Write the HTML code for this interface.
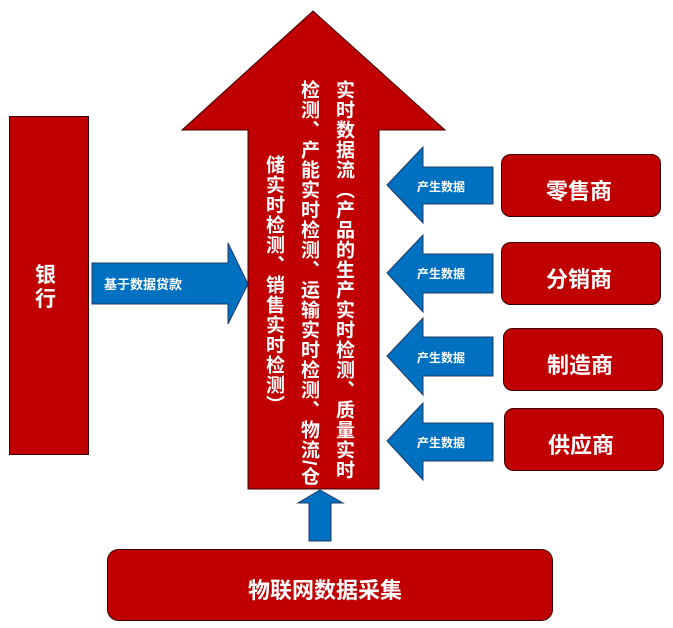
<!DOCTYPE html>
<html><head><meta charset="utf-8"><style>
body{margin:0;background:#fff;width:673px;height:628px;overflow:hidden;position:relative;font-family:"Liberation Sans","Noto Sans CJK SC",sans-serif}
svg{position:absolute;left:0;top:0}
.t{position:absolute;color:#fff;font-weight:bold;white-space:nowrap}
.v{writing-mode:vertical-rl;font-size:19px;line-height:20px;letter-spacing:1px}
</style></head><body>
<svg width="673" height="628">
<g stroke="#3a0000" stroke-width="1">
<rect x="9.5" y="116.5" width="79" height="338" fill="#c00000"/>
<polygon points="313,11 445,130 379,130 379,489 248,489 248,130 182,130" fill="#c00000"/>
<rect x="501.5" y="154.5" width="159" height="62" rx="9" fill="#c00000"/>
<rect x="501.5" y="242.5" width="159" height="62" rx="9" fill="#c00000"/>
<rect x="503.5" y="328.5" width="159" height="62" rx="9" fill="#c00000"/>
<rect x="504.5" y="408.5" width="159" height="62" rx="9" fill="#c00000"/>
<rect x="107.5" y="549.5" width="445" height="71" rx="11" fill="#c00000"/>
</g>
<g fill="#0070c0" stroke="#1f3864" stroke-width="1">
<polygon points="387,185 423,147 423,167 493,167 493,204 423,204 423,223"/>
<polygon points="387,273 423,235 423,254 493,254 493,293 423,293 423,312"/>
<polygon points="387,356 423,318 423,337 493,337 493,376 423,376 423,395"/>
<polygon points="387,441 423,403 423,423 493,423 493,461 423,461 423,480"/>
<polygon points="248,284 228,243 228,263 92,263 92,304 228,304 228,324"/>
<polygon points="320,490 343,503 331,503 331,541 309,541 309,503 298,503"/>
</g>
</svg>
<div class="t" style="left:35px;top:264px;font-size:21px;line-height:24px;width:24px">银<br>行</div>
<div class="t" style="left:104px;top:274px;font-size:13px">基于数据贷款</div>
<div class="t v" style="left:333px;top:80px">实时数据流（产品的生产实时检测、质量实时</div>
<div class="t v" style="left:298px;top:80px">检测、产能实时检测、运输实时检测、物流/仓</div>
<div class="t v" style="left:263px;top:155px">储实时检测、销售实时检测）</div>
<div class="t" style="left:417px;top:178px;font-size:12px">产生数据</div>
<div class="t" style="left:417px;top:265px;font-size:12px">产生数据</div>
<div class="t" style="left:417px;top:349px;font-size:12px">产生数据</div>
<div class="t" style="left:417px;top:434px;font-size:12px">产生数据</div>
<div class="t" style="left:546px;top:174px;font-size:22px">零售商</div>
<div class="t" style="left:546px;top:262px;font-size:22px">分销商</div>
<div class="t" style="left:547px;top:348px;font-size:22px">制造商</div>
<div class="t" style="left:548px;top:428px;font-size:22px">供应商</div>
<div class="t" style="left:248px;top:573px;font-size:22px">物联网数据采集</div>
</body></html>
